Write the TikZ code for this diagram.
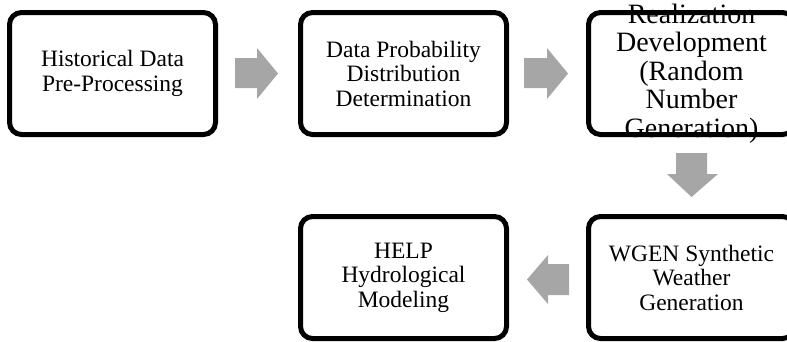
\documentclass[tikz,border=0pt]{standalone}
\usepackage{fontspec}
\setmainfont{Liberation Serif}
\begin{document}
\begin{tikzpicture}[x=1pt,y=1pt,
  frame/.style={draw=black, line width=5pt, rounded corners=12pt,
    minimum width=206pt, minimum height=122pt, inner sep=0pt, outer sep=0pt},
  label/.style={align=center, inner sep=0pt, font=\fontsize{23.5}{24.5}\selectfont},
  biglabel/.style={align=center, inner sep=0pt, font=\fontsize{28}{28.5}\selectfont},
  flowarrow/.style={fill=black!35, draw=none}]
\path[use as bounding box, clip] (0,0) rectangle (787,-341);

% step boxes: text first, frame on top
\node[label] (t1) at (112.5,-73.5) {Historical Data\\Pre-Processing};
\node[frame] (b1) at (t1.center) {};
\node[label] (t2) at (403.5,-73.5) {Data Probability\\Distribution\\Determination};
\node[frame] (b2) at (t2.center) {};
\node[biglabel] (t3) at (691.5,-73.5) {Realization\\Development\\(Random\\Number\\Generation)};
\node[frame] (b3) at (t3.center) {};
\node[label] (t4) at (691.5,-277.5) {WGEN Synthetic\\Weather\\Generation};
\node[frame] (b4) at (t4.center) {};
\node[label] (t5) at (403.5,-277.5) {HELP\\Hydrological\\Modeling};
\node[frame] (b5) at (t5.center) {};

% block arrows between the steps
\fill[flowarrow] (235,-58) -- (257,-58) -- (257,-48) -- (278,-73.5) -- (257,-99) -- (257,-88) -- (235,-88) -- cycle;
\fill[flowarrow] (524,-58) -- (547,-58) -- (547,-48) -- (568,-73.5) -- (547,-99) -- (547,-88) -- (524,-88) -- cycle;
\fill[flowarrow] (676,-153) -- (707,-153) -- (707,-174) -- (718,-174) -- (691.5,-197) -- (667,-174) -- (676,-174) -- cycle;
\fill[flowarrow] (569,-264) -- (548,-264) -- (548,-255) -- (527,-279.5) -- (548,-304) -- (548,-295) -- (569,-295) -- cycle;
\end{tikzpicture}
\end{document}
